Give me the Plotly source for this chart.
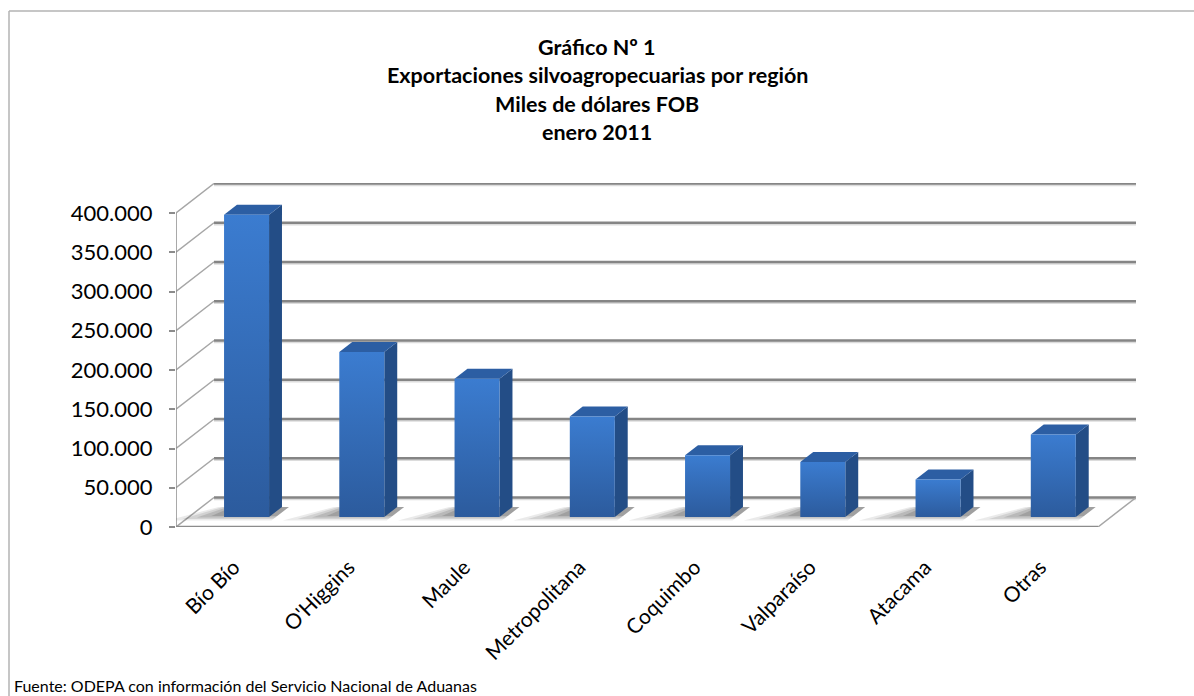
import plotly.graph_objects as go

# ---- data ----
categories = ["Bío Bío", "O'Higgins", "Maule", "Metropolitana", "Coquimbo",
              "Valparaíso", "Atacama", "Otras"]
values = [385000, 210000, 176000, 128000, 78600, 70000, 47600, 105000]
tick_values = [0, 50000, 100000, 150000, 200000, 250000, 300000, 350000, 400000]
tick_labels = ["0", "50.000", "100.000", "150.000", "200.000", "250.000",
               "300.000", "350.000", "400.000"]
title_lines = ["Gráfico Nº 1", "Exportaciones silvoagropecuarias por región",
               "Miles de dólares FOB", "enero 2011"]
source_text = "Fuente: ODEPA con información del Servicio Nacional de Aduanas"

# ---- geometry (pseudo 3D projection) ----
W, H = 1194, 696
ML, MT, MB = 176, 183, 169
CAT_PX = 115.25                 # px per category on the front edge
DX_PX, DY_PX = 38.0, 29.5       # depth offset of back wall in px
N = len(categories)
plot_w = N * CAT_PX + DX_PX
plot_h = H - MT - MB
PY = 314.0 / 400000.0           # px per value unit
YMAX = plot_h / PY
XMAX = plot_w / CAT_PX
DXU = DX_PX / CAT_PX
DYU = DY_PX / PY
F1, F2 = 0.34, 0.68             # bar depth (front / back fractions)
HW = 22.5 / CAT_PX              # bar half width


def P(c, v, d):
    """category coordinate c, value v, depth fraction d -> data coords"""
    return c + d * DXU, v + d * DYU


fig = go.Figure()
GRID = "#858585"
DIAG = "#a6a6a6"


def line(pts, color, width):
    fig.add_trace(go.Scatter(x=[p[0] for p in pts], y=[p[1] for p in pts],
                             mode="lines", line=dict(color=color, width=width),
                             hoverinfo="skip", showlegend=False, cliponaxis=False))


def poly(pts, color, **kw):
    xs = [p[0] for p in pts] + [pts[0][0]]
    ys = [p[1] for p in pts] + [pts[0][1]]
    fig.add_trace(go.Scatter(x=xs, y=ys, mode="lines", fill="toself",
                             fillcolor=color, line=dict(width=0, color=color),
                             hoverinfo="skip", showlegend=False, cliponaxis=False, **kw))


# back wall gridlines (with soft shadow) and side wall diagonals
for v in tick_values:
    a, b = P(0, v, 1), P(N, v, 1)
    line([(a[0], a[1] - 1.8 / PY), (b[0], b[1] - 1.8 / PY)], "#dcdcdc", 2)
    line([a, b], GRID, 2.5)
    line([P(0, v, 0), P(0, v, 1)], DIAG, 1.5)

# floor edges
line([P(N, 0, 0), P(N, 0, 1)], DIAG, 1.5)
line([(0, -1.5 / PY), (N, -1.5 / PY)], "#e4e4e4", 2)
line([P(0, 0, 0), P(N, 0, 0)], "#8c8c8c", 2.4)
# front value axis
line([P(0, 0, 0), P(0, tick_values[-1], 0)], "#8c8c8c", 1.5)
# category tick marks
for i in range(N + 1):
    line([(i, 0), (i, -7 / PY)], "#8c8c8c", 1.5)

# floor shadows (soft, layered)
for i, v in enumerate(values):
    c = i + 0.5
    for k, alpha in enumerate([0.12, 0.16, 0.20, 0.24]):
        ext = 0.45 - k * 0.11
        d0 = F1 - 0.12 + k * 0.05
        pts = [P(c - HW - ext, 0, d0),
               P(c + HW + 0.06, 0, d0),
               P(c + HW + 0.06, 0, F2),
               P(c - HW - ext * 0.35, 0, F2)]
        poly(pts, "rgba(85,85,85,%.2f)" % alpha)

# bars
for i, v in enumerate(values):
    c = i + 0.5
    xl, xr = c - HW, c + HW
    # side face
    poly([P(xr, 0, F1), P(xr, 0, F2), P(xr, v, F2), P(xr, v, F1)], "#234d86")
    # top face
    poly([P(xl, v, F1), P(xr, v, F1), P(xr, v, F2), P(xl, v, F2)], "#2c5ea3")
    # front face with vertical gradient
    poly([P(xl, 0, F1), P(xr, 0, F1), P(xr, v, F1), P(xl, v, F1)], "#3470c0",
         fillgradient=dict(type="vertical",
                           colorscale=[[0, "#2c5b9d"], [1, "#3b7cd0"]]))

fig.update_layout(
    width=W, height=H,
    margin=dict(l=ML, r=W - ML - plot_w, t=MT, b=MB),
    paper_bgcolor="white", plot_bgcolor="rgba(0,0,0,0)",
    font=dict(family="Lato", color="#000000"),
    showlegend=False,
    xaxis=dict(range=[0, XMAX], tickmode="array",
               tickvals=[i + 0.5 for i in range(N)], ticktext=categories,
               tickangle=-45, ticks="", showgrid=False, zeroline=False,
               showline=False, tickfont=dict(size=21, family="Lato"),
               ticklabelstandoff=23, fixedrange=True),
    yaxis=dict(range=[0, YMAX], tickmode="array", tickvals=tick_values,
               ticktext=tick_labels, ticks="outside", ticklen=6, tickwidth=1.5,
               tickcolor="#8c8c8c", showgrid=False, zeroline=False, showline=False,
               tickfont=dict(size=22, family="Lato"), ticklabelstandoff=12,
               fixedrange=True),
)

# title lines
for k, t in enumerate(title_lines):
    fig.add_annotation(text="<b>%s</b>" % t, xref="paper", yref="paper",
                       x=(597 - ML) / plot_w, y=(H - MB - (47 + 28.3 * k)) / plot_h,
                       showarrow=False, xanchor="center", yanchor="middle",
                       font=dict(size=21.5, family="Lato", color="#000000"))

# source
fig.add_annotation(text=source_text, xref="paper", yref="paper",
                   x=(12 - ML) / plot_w, y=(H - MB - 685) / plot_h,
                   showarrow=False, xanchor="left", yanchor="middle",
                   font=dict(size=16, family="Lato", color="#000000"))

# outer chart border (top and left edges visible)
fig.add_shape(type="line", xref="paper", yref="paper",
              x0=(9 - ML) / plot_w, x1=(W + 5 - ML) / plot_w,
              y0=(H - MB - 11) / plot_h, y1=(H - MB - 11) / plot_h,
              line=dict(color="#b3b3b3", width=1.5))
fig.add_shape(type="line", xref="paper", yref="paper",
              x0=(9 - ML) / plot_w, x1=(9 - ML) / plot_w,
              y0=(H - MB - 11) / plot_h, y1=(H - MB - H - 5) / plot_h,
              line=dict(color="#b3b3b3", width=1.5))

fig.write_html("out.html", config={"displayModeBar": False},
               post_script="document.body.style.margin='0';"
                           "document.body.style.overflow='hidden';")
